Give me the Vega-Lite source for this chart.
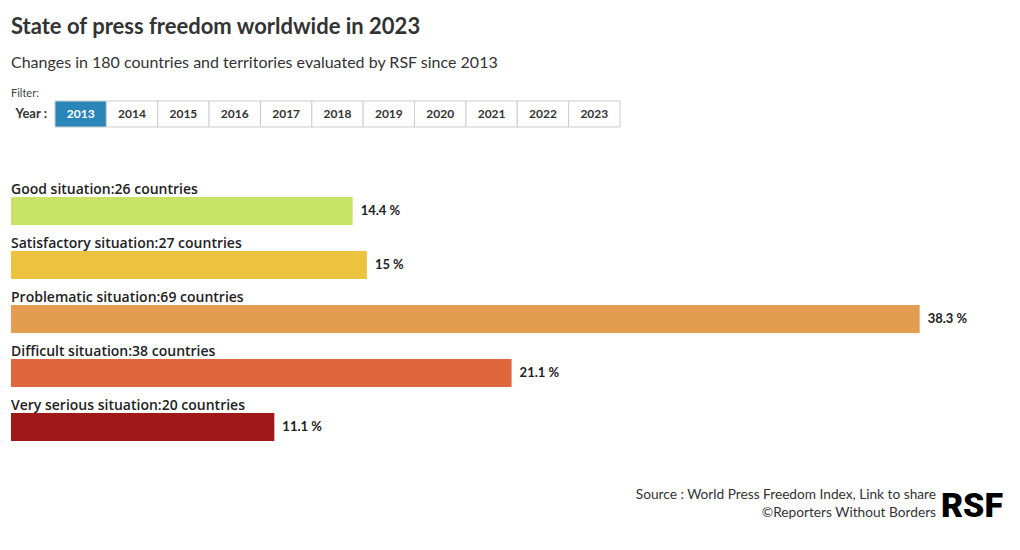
{
  "$schema": "https://vega.github.io/schema/vega-lite/v6.json",
  "padding": {"left": 11, "top": 15, "right": 17, "bottom": 20},
  "background": "white",
  "config": {"font": "Lato", "view": {"stroke": null}, "concat": {"spacing": 44}},
  "title": {
    "text": "State of press freedom worldwide in 2023",
    "subtitle": "Changes in 180 countries and territories evaluated by RSF since 2013",
    "anchor": "start",
    "frame": "group",
    "fontSize": 22,
    "fontWeight": "bold",
    "color": "#333333",
    "subtitleFontSize": 16,
    "subtitleColor": "#333333",
    "subtitlePadding": 16,
    "offset": 16
  },
  "datasets": {
    "years": [
      {"year": "2013", "selected": "yes"},
      {"year": "2014", "selected": "no"},
      {"year": "2015", "selected": "no"},
      {"year": "2016", "selected": "no"},
      {"year": "2017", "selected": "no"},
      {"year": "2018", "selected": "no"},
      {"year": "2019", "selected": "no"},
      {"year": "2020", "selected": "no"},
      {"year": "2021", "selected": "no"},
      {"year": "2022", "selected": "no"},
      {"year": "2023", "selected": "no"}
    ],
    "filterLabel": [{"label": "Year :"}],
    "press": [
      {"cat": "Good situation", "countries": 26, "pct": 14.4, "label": "Good situation:26 countries", "pctLabel": "14.4 %"},
      {"cat": "Satisfactory situation", "countries": 27, "pct": 15, "label": "Satisfactory situation:27 countries", "pctLabel": "15 %"},
      {"cat": "Problematic situation", "countries": 69, "pct": 38.3, "label": "Problematic situation:69 countries", "pctLabel": "38.3 %"},
      {"cat": "Difficult situation", "countries": 38, "pct": 21.1, "label": "Difficult situation:38 countries", "pctLabel": "21.1 %"},
      {"cat": "Very serious situation", "countries": 20, "pct": 11.1, "label": "Very serious situation:20 countries", "pctLabel": "11.1 %"}
    ],
    "footer": [
      {"line": 1, "text": "Source : World Press Freedom Index, Link to share"},
      {"line": 2, "text": "©Reporters Without Borders"}
    ],
    "logo": [{"logo": "RSF"}]
  },
  "vconcat": [
    {
      "title": {"text": "Filter:", "anchor": "start", "frame": "bounds", "fontSize": 11, "fontWeight": "normal", "color": "#444444", "offset": 2},
      "spacing": 7,
      "hconcat": [
        {
          "width": 36,
          "height": 26,
          "data": {"name": "filterLabel"},
          "mark": {"type": "text", "align": "right", "baseline": "middle", "fontSize": 13, "fontWeight": "bold", "color": "#333333"},
          "encoding": {"x": {"value": "width"}, "y": {"value": 13}, "text": {"field": "label"}}
        },
        {
          "width": 565,
          "height": 26,
          "data": {"name": "years"},
          "encoding": {
            "x": {"field": "year", "type": "ordinal", "scale": {"paddingInner": 0, "paddingOuter": 0}, "axis": null}
          },
          "layer": [
            {
              "mark": {"type": "rect", "stroke": "#cccccc", "strokeWidth": 1},
              "encoding": {"fill": {"condition": {"test": "datum.selected == 'yes'", "value": "#2a86b8"}, "value": "#ffffff"}}
            },
            {
              "mark": {"type": "text", "fontSize": 12, "fontWeight": "bold", "baseline": "middle"},
              "encoding": {
                "text": {"field": "year"},
                "color": {"condition": {"test": "datum.selected == 'yes'", "value": "#ffffff"}, "value": "#333333"}
              }
            }
          ]
        }
      ]
    },
    {
      "width": 949,
      "height": 270,
      "data": {"name": "press"},
      "encoding": {
        "y": {"field": "cat", "type": "nominal", "sort": null, "scale": {"paddingInner": 0, "paddingOuter": 0}, "axis": null}
      },
      "layer": [
        {
          "mark": {"type": "bar", "height": 28, "yOffset": 12},
          "encoding": {
            "x": {"field": "pct", "type": "quantitative", "scale": {"domain": [0, 40]}, "axis": null},
            "color": {"field": "cat", "type": "nominal", "legend": null,
              "scale": {"domain": ["Good situation", "Satisfactory situation", "Problematic situation", "Difficult situation", "Very serious situation"],
                "range": ["#c8e366", "#ecc33f", "#e49c50", "#df673c", "#a11818"]}}
          }
        },
        {
          "mark": {"type": "text", "align": "left", "baseline": "alphabetic", "yOffset": -5, "fontSize": 14, "fontWeight": 600, "font": "Open Sans", "color": "#222222"},
          "encoding": {"x": {"datum": 0, "type": "quantitative"}, "text": {"field": "label"}}
        },
        {
          "mark": {"type": "text", "align": "left", "baseline": "middle", "dx": 8, "yOffset": 12, "fontSize": 13, "fontWeight": "bold", "color": "#222222"},
          "encoding": {"x": {"field": "pct", "type": "quantitative"}, "text": {"field": "pctLabel"}}
        }
      ]
    },
    {
      "width": 992,
      "height": 36,
      "layer": [
        {
          "data": {"name": "footer"},
          "mark": {"type": "text", "align": "right", "baseline": "middle", "dx": -67, "fontSize": 13.7, "color": "#333333"},
          "encoding": {
            "x": {"value": "width"},
            "y": {"field": "line", "type": "ordinal", "scale": {"paddingInner": 0, "paddingOuter": 0}, "axis": null},
            "text": {"field": "text"}
          }
        },
        {
          "data": {"name": "logo"},
          "mark": {"type": "text", "align": "right", "baseline": "alphabetic", "dy": -5, "fontSize": 34, "fontWeight": 900, "font": "Roboto", "color": "#000000"},
          "encoding": {"x": {"value": "width"}, "y": {"value": "height"}, "text": {"field": "logo"}}
        }
      ]
    }
  ]
}
